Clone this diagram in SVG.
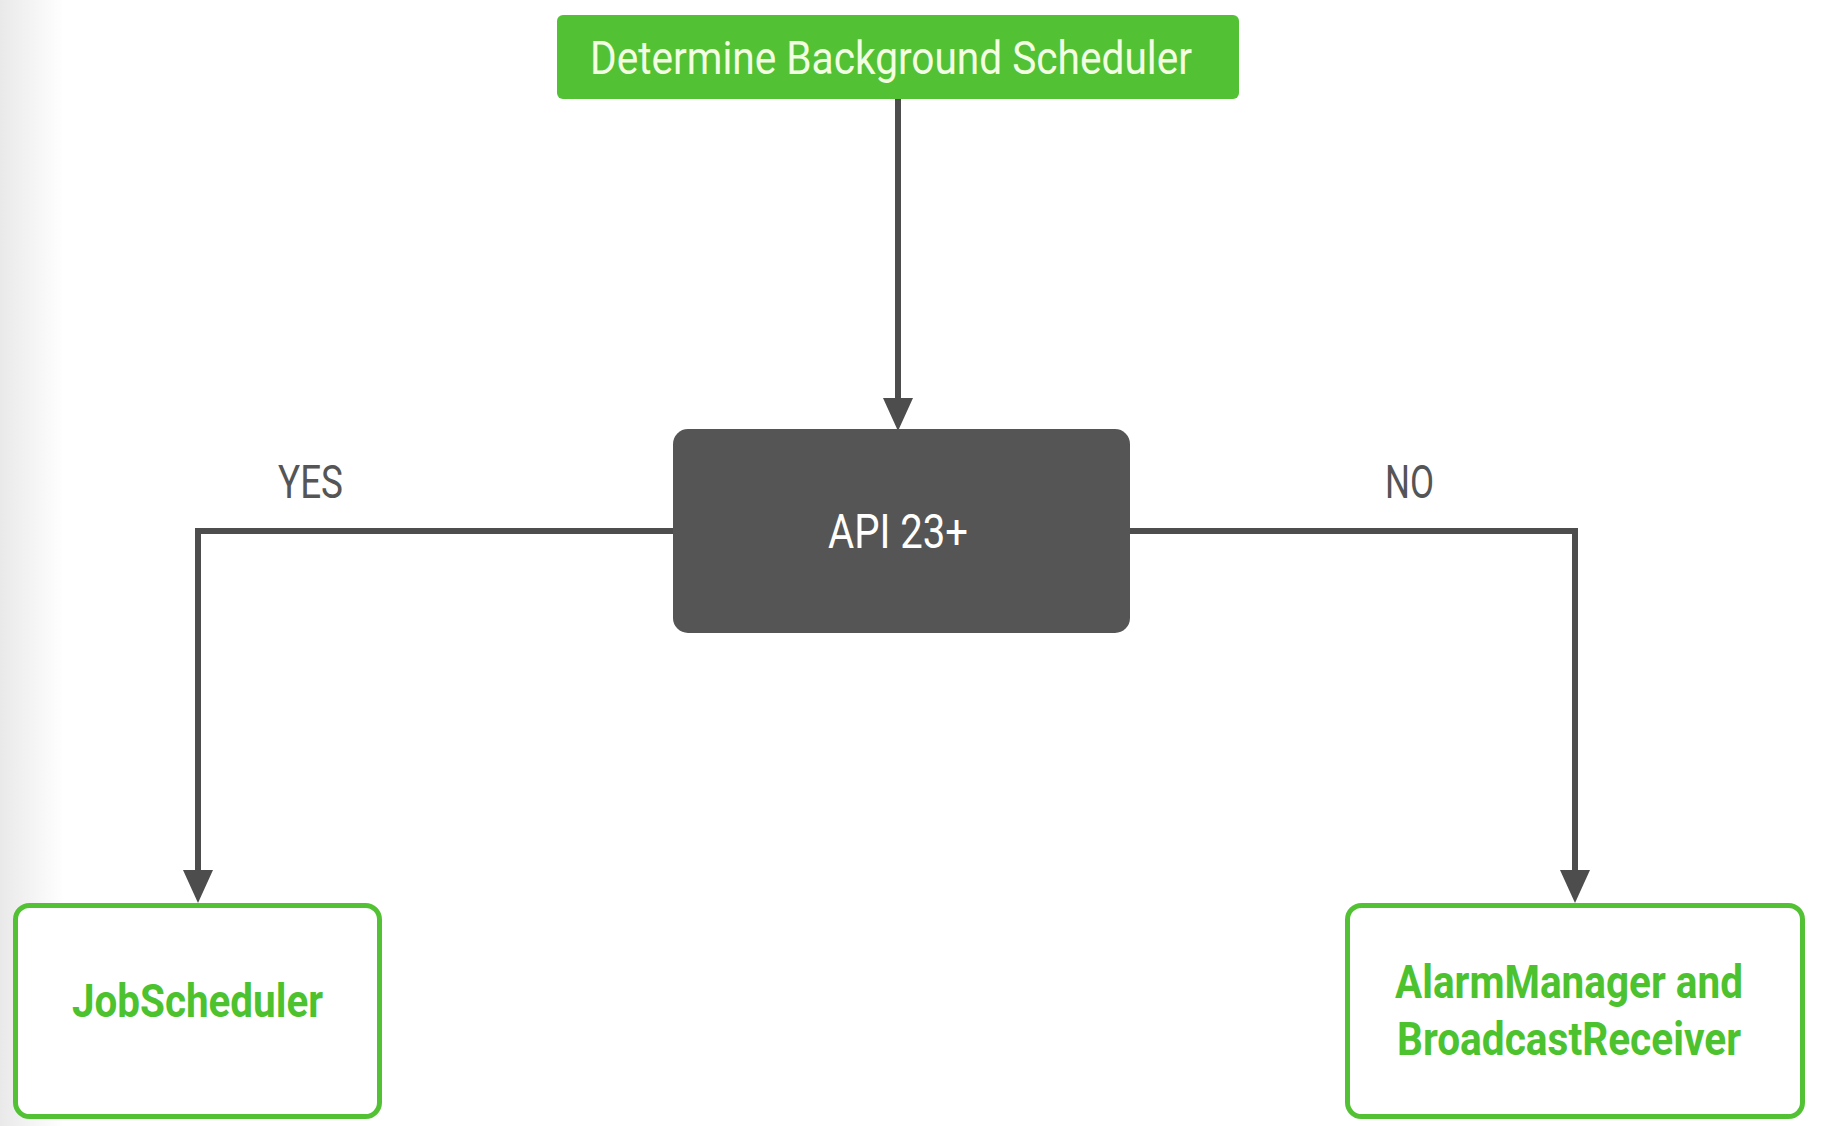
<svg xmlns="http://www.w3.org/2000/svg" width="1828" height="1126" viewBox="0 0 1828 1126">
  <defs>
    <linearGradient id="edge" x1="0" y1="0" x2="1" y2="0">
      <stop offset="0" stop-color="#e9e9e9"/>
      <stop offset="1" stop-color="#ffffff"/>
    </linearGradient>
    <marker id="arrow" markerUnits="userSpaceOnUse" markerWidth="33" markerHeight="30" viewBox="0 0 33 30" refX="0" refY="15" orient="auto">
      <path d="M0,0 L33,15 L0,30 Z" fill="#4d4d4d"/>
    </marker>
    <style>
      .conn { fill: none; stroke: #4d4d4d; stroke-width: 6; stroke-linejoin: miter; }
      .lbl { font-family: Roboto, "Liberation Sans", sans-serif; font-size: 47px; fill: #555555; text-anchor: middle; }
      .title { font-family: Roboto, "Liberation Sans", sans-serif; font-size: 47px; fill: #f2ffe2; text-anchor: middle; }
      .dec { font-family: Roboto, "Liberation Sans", sans-serif; font-size: 48px; fill: #ffffff; text-anchor: middle; }
      .out { fill: #ffffff; stroke: #52c234; stroke-width: 5; }
      .outtxt { font-family: Roboto, "Liberation Sans", sans-serif; font-weight: bold; font-size: 46px; fill: #4cc22e; text-anchor: middle; }
    </style>
  </defs>
  <rect x="0" y="0" width="1828" height="1126" fill="#ffffff"/>
  <rect x="0" y="0" width="64" height="1126" fill="url(#edge)"/>

  <g id="connectors">
    <path class="conn" d="M898 99 V398" marker-end="url(#arrow)"/>
    <path class="conn" d="M673 531 H198 V870" marker-end="url(#arrow)"/>
    <path class="conn" d="M1130 531 H1575 V870" marker-end="url(#arrow)"/>
    <text class="lbl" x="310.5" y="498" textLength="65" lengthAdjust="spacingAndGlyphs">YES</text>
    <text class="lbl" x="1409.5" y="498" textLength="49" lengthAdjust="spacingAndGlyphs">NO</text>
  </g>

  <g id="start">
    <rect x="557" y="15" width="682" height="84" rx="6" fill="#52c234"/>
    <text class="title" x="891" y="74" textLength="602" lengthAdjust="spacingAndGlyphs">Determine Background Scheduler</text>
  </g>

  <g id="decision">
    <rect x="673" y="429" width="457" height="204" rx="15" fill="#555555"/>
    <text class="dec" x="898" y="548" textLength="140" lengthAdjust="spacingAndGlyphs">API 23+</text>
  </g>

  <g id="jobscheduler">
    <rect class="out" x="15.5" y="905.5" width="364" height="211" rx="14"/>
    <text class="outtxt" x="197.5" y="1017" textLength="251" lengthAdjust="spacingAndGlyphs">JobScheduler</text>
  </g>

  <g id="alarmmanager">
    <rect class="out" x="1347.5" y="905.5" width="455" height="211" rx="14"/>
    <text class="outtxt" x="1569" y="998" textLength="348" lengthAdjust="spacingAndGlyphs">AlarmManager and</text>
    <text class="outtxt" x="1569" y="1055" textLength="344" lengthAdjust="spacingAndGlyphs">BroadcastReceiver</text>
  </g>
</svg>
